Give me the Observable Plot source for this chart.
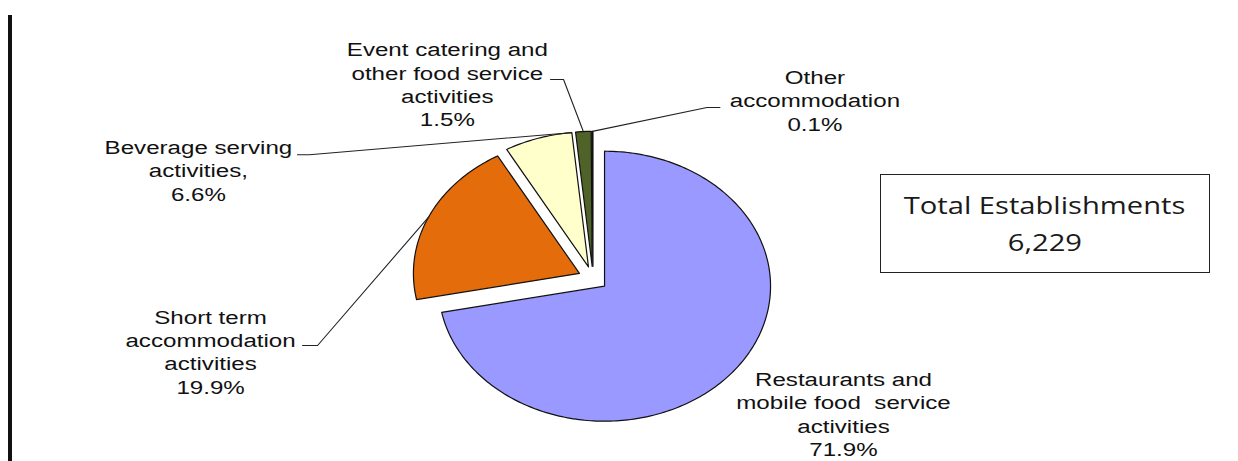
<!DOCTYPE html>
<html>
<head>
<meta charset="utf-8">
<script src="https://cdn.jsdelivr.net/npm/d3@7"></script>
<script src="https://cdn.jsdelivr.net/npm/@observablehq/plot@0.6"></script>
<style>
  body { margin: 0; background: #fff; }
  #wrap { position: relative; width: 1238px; height: 461px; overflow: hidden; background: #fff; }
  #rule { position: absolute; left: 8px; top: 15px; width: 4px; height: 446px; background: #111; }
  #total { position: absolute; left: 880px; top: 174px; width: 330px; height: 99px; box-sizing: border-box;
           border: 1.5px solid #222; font-family: "Open Sans", sans-serif; color: #1a1a1a; text-align: center; }
  #total .line { position: absolute; left: 0; right: 0; font-size: 23.5px; line-height: 30px; }
  #total span { display: inline-block; transform: scaleX(1.24); }
  #chart { position: absolute; left: 0; top: 0; }
</style>
</head>
<body>
<div id="wrap">
  <div id="chart"></div>
  <div id="rule"></div>
  <div id="total">
    <div class="line" id="totalTitle" style="top:15px"><span></span></div>
    <div class="line" id="totalValue" style="top:52px"><span></span></div>
  </div>
</div>
<script>
// ---------------- data ----------------
const categories = [
  "Restaurants and mobile food service activities",
  "Short term accommodation activities",
  "Beverage serving activities",
  "Event catering and other food service activities",
  "Other accommodation"
];
const shares = [71.9, 19.9, 6.6, 1.5, 0.1];
const labelNames = [
  "Restaurants and\nmobile food  service\nactivities",
  "Short term\naccommodation\nactivities",
  "Beverage serving\nactivities,",
  "Event catering and\nother food service\nactivities",
  "Other\naccommodation"
];
const colors = ["#9999FF", "#E46C0A", "#FFFFCC", "#4F6228", "#141414"];
const totalTitle = "Total Establishments";
const totalEstablishments = 6229;

// ---------------- layout (not data) ----------------
const cx = 592.5, cy = 278, rx = 166, ry = 135, explode = 0.09;
// per slice: position along arc for the anchor, label offset (px), leader elbow/end offsets (px)
const labelLayout = [
  { at: 0.5,  label: [110.7, 41.6],  leader: null },
  { at: 0.5,  label: [-218, 134],    leader: [[-111, 128.4], [-126, 128.4]] },
  { at: 0.98, label: [-372, 37],     leader: [[-261, 22], [-273, 22]] },
  { at: 0.5,  label: [-136, -47.6],  leader: [[-19.8, -52.1], [-32.8, -52.1]] },
  { at: 0.5,  label: [222.5, -31.4], leader: [[114.5, -23.85], [127.5, -23.85]] }
];

// ---------------- geometry from data ----------------
const arcs = d3.pie().sort(null).value(d => d)(shares);
const slicePts = [], leaderPts = [], labels = [];
arcs.forEach((p, i) => {
  const cat = categories[i];
  const m = (p.startAngle + p.endAngle) / 2;
  const vx = explode * Math.sin(m), vy = explode * Math.cos(m);
  const n = Math.max(2, Math.ceil((p.endAngle - p.startAngle) / (Math.PI / 180)));
  slicePts.push({cat, x: vx, y: vy});
  for (let k = 0; k <= n; k++) {
    const a = p.startAngle + (p.endAngle - p.startAngle) * k / n;
    slicePts.push({cat, x: vx + Math.sin(a), y: vy + Math.cos(a)});
  }
  slicePts.push({cat, x: vx, y: vy});

  const L = labelLayout[i];
  const aa = p.startAngle + (p.endAngle - p.startAngle) * L.at;
  const ax = vx + Math.sin(aa), ay = vy + Math.cos(aa);
  const off = ([dx, dy]) => ({x: ax + dx / rx, y: ay - dy / ry});
  if (L.leader) {
    leaderPts.push({cat, x: ax, y: ay});
    L.leader.forEach(o => leaderPts.push({cat, ...off(o)}));
  }
  labels.push({cat, ...off(L.label), text: labelNames[i] + "\n" + shares[i].toFixed(1) + "%"});
});

const chart = Plot.plot({
  width: 1238,
  height: 461,
  margin: 0,
  x: {domain: [-1, 1], range: [cx - rx, cx + rx], axis: null},
  y: {domain: [-1, 1], range: [cy + ry, cy - ry], axis: null},
  color: {domain: categories, range: colors},
  style: {background: "transparent", overflow: "visible"},
  marks: [
    Plot.line(slicePts, {x: "x", y: "y", z: "cat", fill: "cat", stroke: "#111", strokeWidth: 1.2, strokeLinejoin: "round", curve: "linear"}),
    Plot.line(leaderPts, {x: "x", y: "y", z: "cat", stroke: "#222", strokeWidth: 1.1, curve: "linear"}),
    Plot.text(labels, {x: "x", y: "y", text: "text", fontSize: 19, fontFamily: "Liberation Sans, Arial, sans-serif",
      fill: "#111", lineHeight: 1.23, textAnchor: "middle", lineAnchor: "middle"})
  ]
});

// horizontal stretch of the text, as in the reference
chart.querySelectorAll('g[aria-label="text"] text').forEach(t => {
  let tr = t.getAttribute("transform") || "";
  const x = t.getAttribute("x"), y = t.getAttribute("y");
  if (x != null || y != null) {
    tr = `translate(${x || 0},${y || 0}) ` + tr;
    t.removeAttribute("x"); t.removeAttribute("y");
  }
  t.setAttribute("transform", tr + " scale(1.27,1)");
});

document.getElementById("chart").appendChild(chart);
document.querySelector("#totalTitle span").textContent = totalTitle;
document.querySelector("#totalValue span").textContent = d3.format(",")(totalEstablishments);
</script>
</body>
</html>
